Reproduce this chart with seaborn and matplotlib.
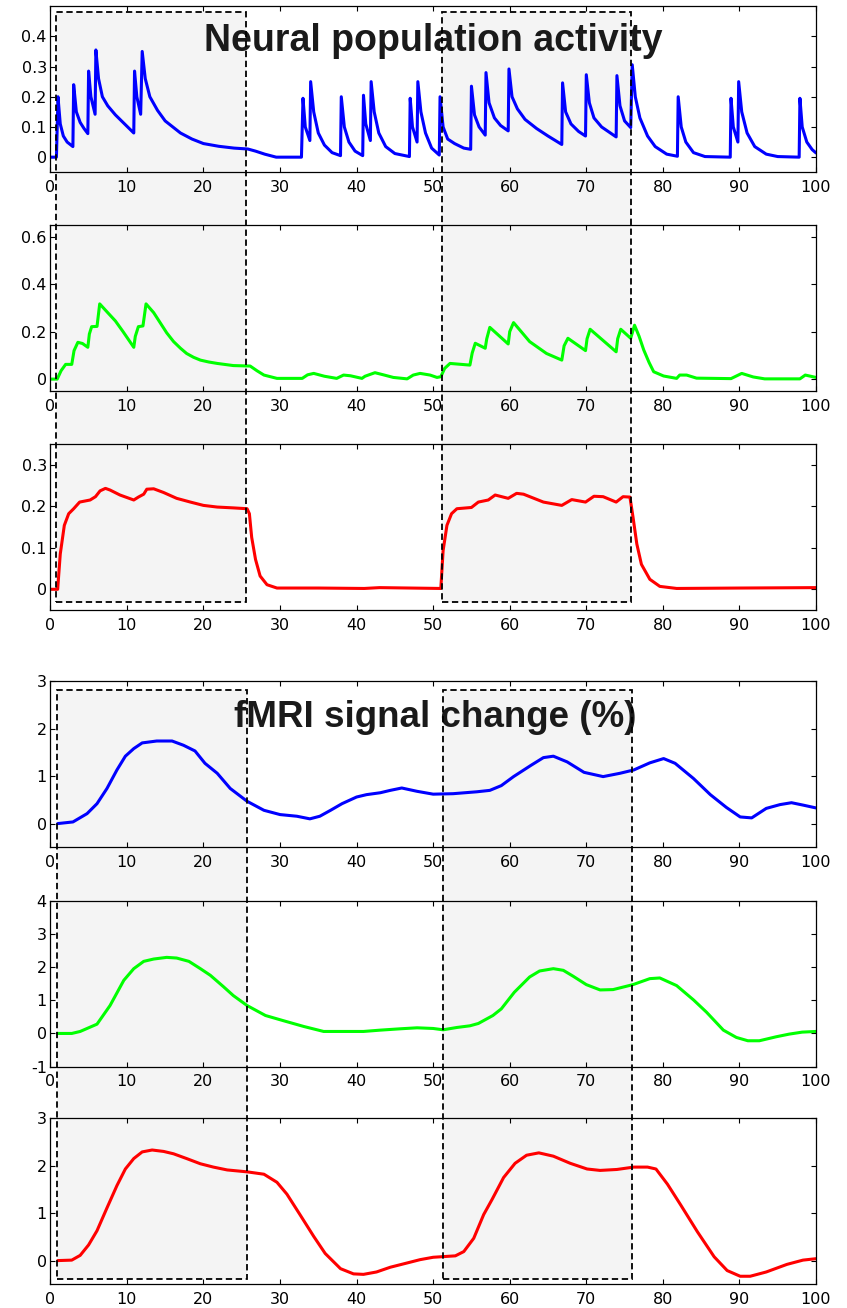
import matplotlib
matplotlib.use("Agg")
import matplotlib.pyplot as plt
from matplotlib.patches import Rectangle
import seaborn as sns

# ---- neural population activity (top three panels) ----
t_nb = [0, 0.8, 1.0, 1.3, 1.7, 2.2, 2.95,
        3.05, 3.4, 3.9, 4.4, 4.9,
        5.0, 5.3, 5.85,
        5.95, 6.3, 6.8, 7.5, 8.5, 9.5, 10.9,
        11.0, 11.3, 11.8,
        12.0, 12.4, 13.0, 14.0, 15.0, 16.0, 17.0, 18.5, 20.0, 22.0, 24.0, 25.8, 26.8, 28.0, 29.5, 32.8,
        33.0, 33.3, 33.9,
        34.0, 34.4, 35.0, 35.8, 36.8, 37.9,
        38.0, 38.4, 39.0, 39.8, 40.8,
        40.9, 41.2, 41.8,
        41.9, 42.3, 42.9, 43.8, 45.0, 46.9,
        47.0, 47.3, 47.9,
        48.0, 48.4, 49.0, 49.8, 50.8,
        50.9, 51.3, 51.9, 52.8, 54.0, 54.9,
        55.0, 55.4, 56.0, 56.8,
        56.9, 57.3, 58.0, 58.8, 59.8,
        59.9, 60.3, 61.0, 62.0, 63.5, 65.0, 66.8,
        66.9, 67.3, 68.0, 69.0, 69.9,
        70.0, 70.4, 71.0, 72.0, 73.9,
        74.0, 74.4, 75.0, 75.8,
        76.0, 76.4, 77.0, 78.0, 79.0, 80.5, 81.9,
        82.0, 82.4, 83.0, 84.0, 85.5, 88.8,
        88.9, 89.2, 89.8,
        89.9, 90.3, 91.0, 92.0, 93.5, 95.0, 97.8,
        97.9, 98.2, 98.8, 99.5, 100]
y_nb = [0, 0, 0.2, 0.11, 0.07, 0.05, 0.035,
        0.24, 0.15, 0.115, 0.095, 0.078,
        0.285, 0.2, 0.142,
        0.355, 0.26, 0.2, 0.17, 0.14, 0.115, 0.08,
        0.285, 0.2, 0.142,
        0.35, 0.26, 0.2, 0.155, 0.12, 0.1, 0.08, 0.06, 0.045, 0.036, 0.03, 0.027, 0.02, 0.01, 0.0, 0.0,
        0.195, 0.1, 0.055,
        0.25, 0.15, 0.08, 0.04, 0.015, 0.005,
        0.2, 0.1, 0.05, 0.02, 0.005,
        0.205, 0.11, 0.055,
        0.25, 0.15, 0.08, 0.035, 0.012, 0.002,
        0.195, 0.1, 0.05,
        0.25, 0.15, 0.08, 0.03, 0.007,
        0.2, 0.1, 0.06, 0.045, 0.03, 0.026,
        0.235, 0.14, 0.1, 0.073,
        0.28, 0.18, 0.13, 0.105, 0.087,
        0.292, 0.2, 0.16, 0.125, 0.095, 0.07, 0.042,
        0.246, 0.15, 0.11, 0.085, 0.07,
        0.273, 0.18, 0.13, 0.1, 0.067,
        0.27, 0.17, 0.12, 0.098,
        0.306, 0.2, 0.13, 0.07, 0.035, 0.01, 0.003,
        0.2, 0.1, 0.05, 0.015, 0.002, 0.0,
        0.195, 0.1, 0.05,
        0.25, 0.15, 0.08, 0.035, 0.01, 0.002, 0.0,
        0.195, 0.1, 0.05, 0.025, 0.014]

t_ng = [0, 0.9, 1.4, 2.0, 2.8, 3.1, 3.6, 4.2, 4.9, 5.1, 5.4, 6.1, 6.45, 7.5, 8.5, 9.5, 10.9, 11.1, 11.5, 12.1, 12.5,
        13.5, 14.4, 15.2, 16.1, 17.0, 17.8, 18.7, 19.6, 20.7, 21.8, 23.9, 26.1, 27.0, 27.9, 29.6,
        32.9, 33.6, 34.4, 35.8, 37.4, 38.3, 39.2, 40.7, 41.1, 42.4, 43.5, 44.8, 46.6, 47.4, 48.3, 49.6, 50.5,
        51.0, 51.5, 52.2, 54.8, 55.1, 55.5, 56.8, 57.0, 57.4, 59.8, 60.0, 60.5, 61.5, 62.6, 64.8, 66.8,
        67.1, 67.6, 69.9, 70.1, 70.5, 73.9, 74.1, 74.5, 75.8, 76.3,
        76.9, 77.5, 78.2, 78.8, 80.1, 81.8, 82.2, 83.1, 84.4, 88.9, 90.3, 91.8, 93.3, 97.9, 98.6, 100]
y_ng = [0, 0, 0.035, 0.062, 0.062, 0.12, 0.155, 0.15, 0.134, 0.19, 0.221, 0.222, 0.317, 0.28, 0.245, 0.2, 0.134, 0.18, 0.221, 0.224, 0.317,
        0.28, 0.235, 0.195, 0.158, 0.13, 0.108, 0.092, 0.08, 0.072, 0.066, 0.057, 0.055, 0.035, 0.017, 0.003,
        0.003, 0.018, 0.024, 0.012, 0.003, 0.017, 0.014, 0.003, 0.012, 0.027, 0.018, 0.007, 0.001, 0.017, 0.024, 0.017, 0.007,
        0.01, 0.045, 0.066, 0.059, 0.11, 0.151, 0.13, 0.17, 0.218, 0.148, 0.2, 0.238, 0.2, 0.158, 0.108, 0.08,
        0.14, 0.172, 0.12, 0.17, 0.21, 0.115, 0.17, 0.21, 0.172, 0.227,
        0.18, 0.123, 0.07, 0.031, 0.013, 0.003, 0.017, 0.017, 0.004, 0.002, 0.024, 0.009, 0.001, 0.001, 0.017, 0.007]

t_nr = [0, 0.96, 1.3, 1.83, 2.4, 3.05, 3.83, 5.2, 5.9, 6.5, 7.2, 7.8, 9.1, 10.9, 11.5, 12.2, 12.6, 13.5, 14.8, 16.5,
        18.3, 20.0, 21.8, 23.9, 25.7, 26.0, 26.3, 26.8, 27.4, 28.3, 29.6, 35.0, 41.0, 43.0, 51.0,
        51.3, 51.8, 52.4, 53.1, 55.0, 55.9, 57.2, 58.1, 59.8, 60.9, 61.8, 64.4, 66.8, 68.1,
        69.9, 71.0, 72.2, 73.9, 74.8, 75.7, 76.1, 76.6, 77.2, 78.3, 79.6, 81.8, 90.0, 100]
y_nr = [0, 0, 0.085, 0.154, 0.182, 0.194, 0.21, 0.215, 0.223, 0.237, 0.243, 0.239, 0.227, 0.215, 0.222, 0.229, 0.241, 0.242, 0.233, 0.219,
        0.21, 0.202, 0.198, 0.196, 0.194, 0.182, 0.125, 0.072, 0.032, 0.011, 0.003, 0.003, 0.002, 0.004, 0.002,
        0.093, 0.154, 0.182, 0.194, 0.197, 0.21, 0.215, 0.227, 0.219, 0.231, 0.229, 0.21, 0.202, 0.216,
        0.21, 0.224, 0.223, 0.21, 0.223, 0.222, 0.174, 0.109, 0.06, 0.024, 0.007, 0.002, 0.003, 0.004]

# ---- fMRI signal change (bottom three panels) ----
t_fb = [0.96, 2.96, 4.8, 6.1, 7.4, 8.7, 9.8, 10.9, 12.0, 13.9,
        15.9, 17.4, 18.9, 20.2, 21.8, 23.5, 25.7, 27.9, 30.0, 32.2,
        33.9, 35.2, 36.6, 38.1, 40.0, 41.3, 43.1, 44.4, 45.9, 47.9,
        50.0, 52.6, 55.7, 57.4, 58.9, 60.5, 62.8, 64.4, 65.7, 67.5,
        69.7, 72.2, 74.4, 76.2, 78.3, 80.1, 81.6, 84.0, 86.2, 88.3,
        90.1, 91.6, 93.5, 95.3, 96.8, 98.3, 100]
y_fb = [0, 0.035, 0.21, 0.42, 0.74, 1.13, 1.42, 1.58, 1.7, 1.74,
        1.74, 1.65, 1.53, 1.27, 1.06, 0.74, 0.47, 0.28, 0.19, 0.155,
        0.1, 0.155, 0.28, 0.42, 0.56, 0.61, 0.65, 0.7, 0.75, 0.68,
        0.62, 0.63, 0.67, 0.7, 0.8, 0.99, 1.23, 1.39, 1.42, 1.3,
        1.08, 0.99, 1.06, 1.13, 1.28, 1.37, 1.27, 0.95, 0.61, 0.34,
        0.14, 0.12, 0.32, 0.4, 0.44, 0.39, 0.33]

t_fg = [0.96, 2.8, 3.9, 6.1, 7.8, 9.6, 10.9, 12.2, 13.5, 15.2,
        16.5, 18.1, 19.6, 20.9, 22.6, 23.9, 25.7, 28.1, 30.5, 33.1,
        35.7, 38.3, 40.9, 43.1, 45.7, 47.9, 50.0, 51.3, 53.1, 54.8,
        55.9, 57.8, 58.9, 60.6, 62.6, 63.9, 65.7, 67.0, 68.3, 70.0,
        71.8, 73.5, 76.1, 78.3, 79.6, 81.8, 84.0, 85.7, 87.9, 89.6,
        91.1, 92.6, 94.8, 96.5, 98.2, 100]
y_fg = [0, 0, 0.06, 0.28, 0.84, 1.6, 1.95, 2.17, 2.24, 2.29,
        2.27, 2.17, 1.95, 1.75, 1.41, 1.14, 0.84, 0.54, 0.38, 0.21,
        0.06, 0.06, 0.06, 0.1, 0.14, 0.17, 0.15, 0.11, 0.18, 0.23,
        0.3, 0.54, 0.74, 1.24, 1.7, 1.88, 1.95, 1.9, 1.72, 1.47,
        1.31, 1.32, 1.47, 1.65, 1.67, 1.44, 1.01, 0.64, 0.1, -0.12,
        -0.22, -0.22, -0.1, -0.02, 0.04, 0.06]

t_fr = [0.96, 2.8, 3.9, 5.0, 6.1, 7.4, 8.7, 9.8, 10.9, 12.0,
        13.3, 14.8, 16.1, 17.8, 19.6, 21.3, 23.1, 25.7, 27.9, 29.6,
        30.9, 32.6, 34.4, 35.9, 37.9, 39.6, 40.9, 42.6, 44.4, 46.6,
        48.3, 50.0, 52.9, 54.0, 55.3, 56.6, 57.7, 59.2, 60.7, 62.2,
        63.8, 65.7, 67.9, 70.1, 71.8, 74.0, 76.2, 78.0, 79.1, 80.6,
        82.3, 84.5, 86.7, 88.4, 90.1, 91.4, 93.5, 96.2, 98.3, 100]
y_fr = [0, 0.01, 0.11, 0.33, 0.63, 1.11, 1.58, 1.93, 2.15, 2.29,
        2.33, 2.3, 2.25, 2.15, 2.04, 1.97, 1.91, 1.87, 1.82, 1.65,
        1.4, 0.97, 0.51, 0.15, -0.17, -0.28, -0.29, -0.24, -0.14, -0.05,
        0.02, 0.07, 0.1, 0.19, 0.47, 0.97, 1.29, 1.75, 2.05, 2.22,
        2.27, 2.2, 2.05, 1.93, 1.9, 1.92, 1.97, 1.97, 1.93, 1.61,
        1.18, 0.61, 0.08, -0.21, -0.33, -0.33, -0.24, -0.08, 0.01, 0.04]

# y ticks per panel
yticks_list = [[0, 0.1, 0.2, 0.3, 0.4], [0, 0.2, 0.4, 0.6], [0, 0.1, 0.2, 0.3],
               [0, 1, 2, 3], [-1, 0, 1, 2, 3, 4], [0, 1, 2, 3]]
xticks = [0, 10, 20, 30, 40, 50, 60, 70, 80, 90, 100]

# stimulus blocks (start, end) as drawn in the two groups
blocks_top = [(0.75, 25.5), (51.1, 75.9)]
blocks_bottom = [(0.92, 25.65), (51.25, 76.0)]

sns.set_style("ticks")
plt.rcParams['font.family'] = ['DejaVu Sans']
plt.rcParams['axes.unicode_minus'] = False
plt.rcParams['axes.edgecolor'] = 'black'
plt.rcParams['xtick.color'] = 'black'
plt.rcParams['ytick.color'] = 'black'
plt.rcParams['text.color'] = 'black'

fig = plt.figure(figsize=(8.47, 13.08), dpi=100)
fig.patch.set_facecolor('white')

bottoms = [0.8683, 0.7011, 0.5336, 0.3522, 0.1845, 0.0181]
ylims = [(-0.05, 0.5), (-0.05, 0.65), (-0.05, 0.35), (-0.5, 3), (-1, 4), (-0.5, 3)]
series = [(t_nb, y_nb, (0, 0, 1)), (t_ng, y_ng, (0, 1, 0)), (t_nr, y_nr, (1, 0, 0)),
          (t_fb, y_fb, (0, 0, 1)), (t_fg, y_fg, (0, 1, 0)), (t_fr, y_fr, (1, 0, 0))]

axes = []
for i, (t, y, col) in enumerate(series):
    ax = fig.add_axes([0.0594, bottoms[i], 0.904, 0.127])
    ax.set_facecolor('none')
    sns.lineplot(x=t, y=y, ax=ax, color=col, lw=2.2, estimator=None, sort=False)
    ax.set_xlim(0, 100)
    ax.set_ylim(*ylims[i])
    ax.set_xticks(xticks)
    ax.set_xticklabels([f'{v:g}' for v in xticks])
    ax.set_yticks(yticks_list[i])
    ax.set_yticklabels([f'{v:g}' for v in yticks_list[i]])
    ax.tick_params(direction='in', length=3.5, width=0.8, top=True, right=True, labelsize=11.5)
    ax.tick_params(axis='x', pad=5.5)
    ax.tick_params(axis='y', pad=2.5)
    for s in ax.spines.values():
        s.set_linewidth(0.9)
        s.set_color('black')
    ax.set_xlabel('')
    ax.set_ylabel('')
    axes.append(ax)

axes[0].text(50, 0.353, 'Neural population activity', ha='center', va='baseline',
             fontsize=27, fontweight='bold', color='#1a1a1a', family='Liberation Sans')
axes[3].text(50.3, 2.03, 'fMRI signal change (%)', ha='center', va='baseline',
             fontsize=26.5, fontweight='bold', color='#1a1a1a', family='Liberation Sans')

inv = fig.transFigure.inverted()


def to_fig(ax, x, y):
    return inv.transform(ax.transData.transform((x, y)))


def add_block(ax_top, y_top, ax_bot, y_bot, x0, x1):
    p0 = to_fig(ax_bot, x0, y_bot)
    p1 = to_fig(ax_top, x1, y_top)
    w, h = p1[0] - p0[0], p1[1] - p0[1]
    fill = Rectangle(p0, w, h, transform=fig.transFigure, facecolor='#f4f4f4',
                     edgecolor='none', zorder=-1)
    edge = Rectangle(p0, w, h, transform=fig.transFigure, facecolor='none',
                     edgecolor='black', lw=1.3, linestyle=(0, (3.5, 2.0)), zorder=3)
    fig.add_artist(fill)
    fig.add_artist(edge)


for x0, x1 in blocks_top:
    add_block(axes[0], 0.481, axes[2], -0.031, x0, x1)
for x0, x1 in blocks_bottom:
    add_block(axes[3], 2.82, axes[5], -0.385, x0, x1)

fig.savefig('out.png', dpi=100)
